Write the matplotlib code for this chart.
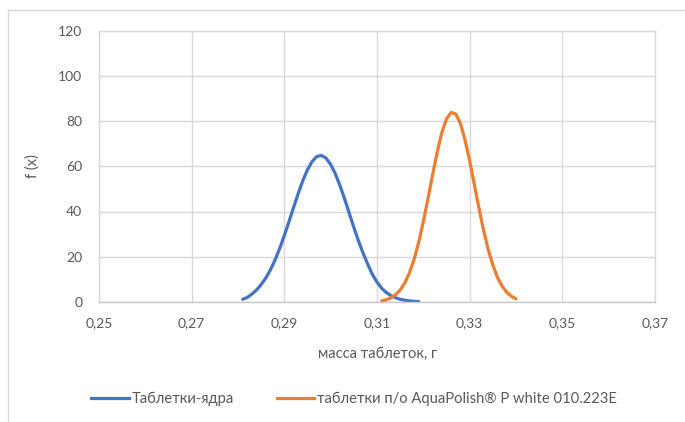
import matplotlib
matplotlib.use('Agg')
import matplotlib.pyplot as plt
from matplotlib.lines import Line2D

# --- данные: плотность распределения массы таблеток ---
x_core = [0.281, 0.282, 0.283, 0.284, 0.285, 0.286, 0.287, 0.288, 0.289, 0.290,
          0.291, 0.292, 0.293, 0.294, 0.295, 0.296, 0.297, 0.298, 0.299, 0.300,
          0.301, 0.302, 0.303, 0.304, 0.305, 0.306, 0.307, 0.308, 0.309, 0.310,
          0.311, 0.312, 0.313, 0.314, 0.315, 0.316, 0.317, 0.318, 0.319]
f_core = [1.2, 2.0, 3.5, 5.3, 7.7, 10.6, 14.2, 18.6, 23.7, 29.4,
          35.5, 41.8, 48.0, 53.7, 58.5, 62.1, 64.3, 64.8, 63.6, 60.8,
          56.7, 51.5, 45.6, 39.3, 33.0, 27.0, 21.6, 16.7, 12.2, 8.8,
          6.1, 4.2, 2.8, 1.9, 1.2, 0.8, 0.5, 0.3, 0.2]

x_coated = [0.311, 0.312, 0.313, 0.314, 0.315, 0.316, 0.317, 0.318, 0.319, 0.320,
            0.321, 0.322, 0.323, 0.324, 0.325, 0.326, 0.327, 0.328, 0.329, 0.330,
            0.331, 0.332, 0.333, 0.334, 0.335, 0.336, 0.337, 0.338, 0.339, 0.340]
f_coated = [0.5, 1.0, 1.8, 3.2, 5.3, 8.4, 12.9, 18.8, 26.4, 35.5,
            45.7, 56.2, 66.3, 74.9, 81.0, 83.8, 83.1, 78.9, 71.7, 62.4,
            52.0, 41.5, 31.7, 23.2, 16.3, 10.9, 7.0, 4.3, 2.5, 1.4]

series_names = ['Таблетки-ядра', 'таблетки п/о AquaPolish® P white 010.223E']

x_ticks = [0.25, 0.27, 0.29, 0.31, 0.33, 0.35, 0.37]
x_tick_labels = ['0,25', '0,27', '0,29', '0,31', '0,33', '0,35', '0,37']
y_ticks = [0, 20, 40, 60, 80, 100, 120]

# --- оформление ---
plt.rcParams['font.family'] = ['Lato', 'DejaVu Sans']
TXT = '#595959'
GRID = '#d9d9d9'
BLUE = '#4472c4'
ORANGE = '#ed7d31'

W, H = 685, 422
fig = plt.figure(figsize=(W / 100, H / 100), dpi=100)
ax = fig.add_axes([99 / W, 1 - 302 / H, (655 - 99) / W, (302 - 30.5) / H])

ax.plot(x_core, f_core, color=BLUE, lw=2.3, solid_capstyle='round')
ax.plot(x_coated, f_coated, color=ORANGE, lw=2.3, solid_capstyle='round')

ax.set_xlim(0.25, 0.37)
ax.set_ylim(0, 120)
ax.set_xticks(x_ticks)
ax.set_xticklabels(x_tick_labels)
ax.set_yticks(y_ticks)
ax.grid(True, color=GRID, lw=1)
ax.set_axisbelow(True)
ax.tick_params(length=0, labelsize=10, labelcolor=TXT)
ax.tick_params(axis='y', pad=12)
ax.tick_params(axis='x', pad=11)
for s in ax.spines.values():
    s.set_color(GRID)
    s.set_linewidth(1)
ax.spines['bottom'].set_color('#c8c8c8')

ax.set_xlabel('масса таблеток, г', fontsize=10.5, color=TXT, labelpad=13)
ax.set_ylabel('f (x)', fontsize=10.5, color=TXT)
ax.yaxis.set_label_coords(-0.106, 0.5)

# рамка области диаграммы
fig.add_artist(Line2D([8 / W, 1], [1 - 10 / H] * 2, color=GRID, lw=1))
fig.add_artist(Line2D([8 / W] * 2, [0, 1 - 10 / H], color=GRID, lw=1))

handles = [Line2D([], [], color=BLUE, lw=2.3), Line2D([], [], color=ORANGE, lw=2.3)]
fig.legend(handles, series_names, loc='center', ncol=2, frameon=False,
           bbox_to_anchor=(354 / W, 1 - 399 / H), fontsize=10.6,
           handlelength=2.55, handletextpad=0.2, columnspacing=2.9,
           labelcolor=TXT)

fig.savefig('out.png', dpi=100)
